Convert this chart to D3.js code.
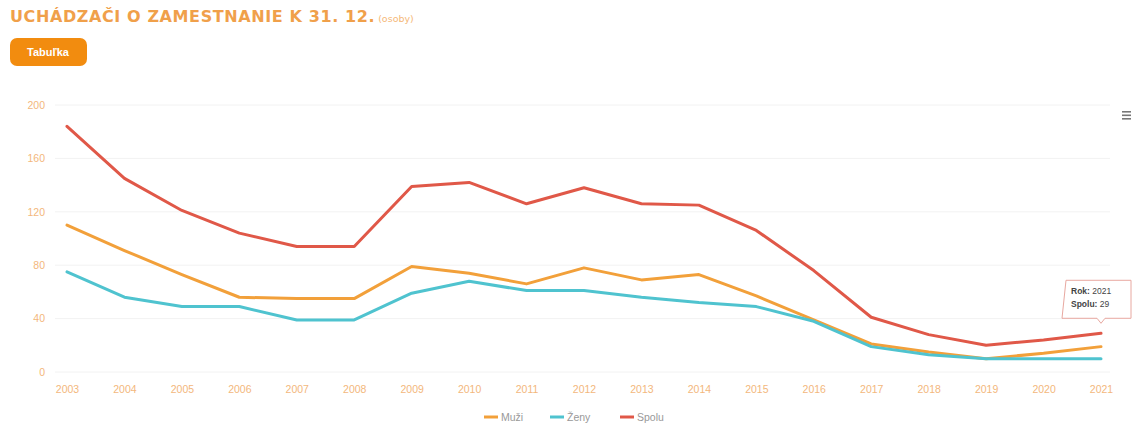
<!DOCTYPE html>
<html>
<head>
<meta charset="utf-8">
<script src="https://cdn.jsdelivr.net/npm/d3@7"></script>
<style>
  body { margin: 0; background: #fff; font-family: "Liberation Sans", Arial, sans-serif; }
</style>
</head>
<body>
<div id="chart"></div>
<script>
const years = [2003, 2004, 2005, 2006, 2007, 2008, 2009, 2010, 2011, 2012, 2013, 2014, 2015, 2016, 2017, 2018, 2019, 2020, 2021];
const muzi  = [110, 91, 73, 56, 55, 55, 79, 74, 66, 78, 69, 73, 57, 39, 21, 15, 10, 14, 19];
const zeny  = [75, 56, 49, 49, 39, 39, 59, 68, 61, 61, 56, 52, 49, 38, 19, 13, 10, 10, 10];
const spolu = [184, 145, 121, 104, 94, 94, 139, 142, 126, 138, 126, 125, 106, 76, 41, 28, 20, 24, 29];
const yTicks = [0, 40, 80, 120, 160, 200];
const seriesNames = ["Muži", "Ženy", "Spolu"];

const series = [
  { name: seriesNames[0], values: muzi, color: "#f2a03a" },
  { name: seriesNames[1], values: zeny, color: "#4fc3cf" },
  { name: seriesNames[2], values: spolu, color: "#e05848" }
];

const width = 1133, height = 423;
const svg = d3.select("#chart").append("svg")
  .attr("width", width)
  .attr("height", height);

// title + button
const title = svg.append("text")
  .attr("x", 10).attr("y", 22)
  .attr("font-family", "DejaVu Sans")
  .attr("font-size", 16).attr("font-weight", "bold")
  .attr("letter-spacing", 0.6)
  .attr("fill", "#f0a04a");
title.append("tspan").text("UCHÁDZAČI O ZAMESTNANIE K 31. 12.");
title.append("tspan").attr("font-size", 9.5).attr("font-weight", "normal")
  .attr("letter-spacing", 0).attr("fill", "#f5b878").text(" (osoby)");

svg.append("rect")
  .attr("x", 10).attr("y", 38).attr("width", 77).attr("height", 28)
  .attr("rx", 7).attr("fill", "#f28c0f");
svg.append("text")
  .attr("x", 48).attr("y", 56).attr("text-anchor", "middle")
  .attr("font-size", 11).attr("font-weight", "bold").attr("fill", "#fff")
  .text("Tabuľka");

const x = d3.scalePoint().domain(years).range([67, 1101]);
const y = d3.scaleLinear().domain([0, 200]).range([372, 105]);

// grid
svg.append("g")
  .selectAll("line")
  .data(yTicks)
  .join("line")
  .attr("x1", 55).attr("x2", 1110)
  .attr("y1", d => y(d)).attr("y2", d => y(d))
  .attr("stroke", "#f2f2f2");

const yAxis = svg.append("g")
  .attr("transform", "translate(45,0)")
  .call(d3.axisLeft(y).tickValues(yTicks).tickSize(0).tickPadding(0));
yAxis.select(".domain").remove();
yAxis.selectAll("text")
  .attr("fill", "#f3b77c").attr("font-size", 10.5).attr("dy", "0.32em");

const xAxis = svg.append("g")
  .attr("transform", "translate(0,382)")
  .call(d3.axisBottom(x).tickSize(0).tickPadding(4));
xAxis.select(".domain").remove();
xAxis.selectAll("text")
  .attr("fill", "#f3b77c").attr("font-size", 10.5);

const line = d3.line()
  .x((d, i) => x(years[i]))
  .y(d => y(d));

svg.append("g")
  .selectAll("path")
  .data(series)
  .join("path")
  .attr("d", d => line(d.values))
  .attr("fill", "none")
  .attr("stroke", d => d.color)
  .attr("stroke-width", 3)
  .attr("stroke-linejoin", "round")
  .attr("stroke-linecap", "round");

// legend
const legendX = [484, 550, 620];
const legend = svg.append("g")
  .selectAll("g")
  .data(series)
  .join("g")
  .attr("transform", (d, i) => `translate(${legendX[i]},417)`);
legend.append("line")
  .attr("x1", 0).attr("x2", 14)
  .attr("stroke", d => d.color).attr("stroke-width", 3);
legend.append("text")
  .attr("x", 17).attr("dy", "0.35em")
  .attr("font-size", 10.5).attr("fill", "#999")
  .text(d => d.name);

// menu icon
svg.append("g")
  .selectAll("rect")
  .data([0, 1, 2])
  .join("rect")
  .attr("x", 1122).attr("y", d => 111 + d * 3.5)
  .attr("width", 9).attr("height", 1.6)
  .attr("fill", "#777");

// tooltip
const last = years.length - 1;
const tx = x(years[last]), ty = y(spolu[last]);
const tip = svg.append("g");
tip.append("path")
  .attr("d", `M${tx - 35},${ty - 53} h65 v38 h-26 l-4,5 l-4,-5 h-35 z`)
  .attr("fill", "#fff").attr("fill-opacity", 0.95)
  .attr("stroke", "#e8a8a0").attr("stroke-width", 1);
const tt = tip.append("text").attr("font-size", 8.5).attr("fill", "#444");
tt.append("tspan").attr("x", tx - 30).attr("y", ty - 39)
  .attr("font-weight", "bold").text("Rok:");
tt.append("tspan").text(" " + years[last]);
tt.append("tspan").attr("x", tx - 30).attr("y", ty - 26)
  .attr("font-weight", "bold").text("Spolu:");
tt.append("tspan").text(" " + spolu[last]);
</script>
</body>
</html>
